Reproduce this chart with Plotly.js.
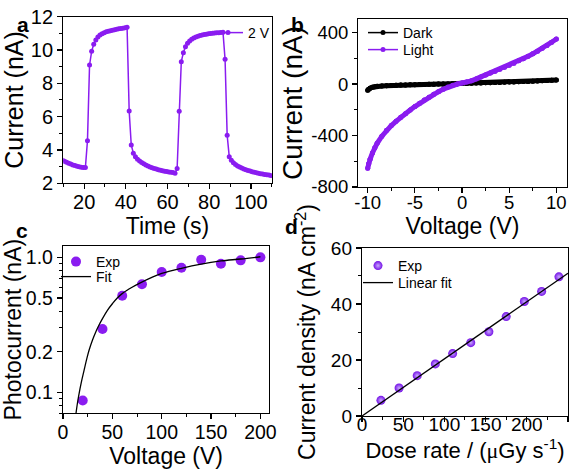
<!DOCTYPE html>
<html><head><meta charset="utf-8">
<script src="https://cdn.plot.ly/plotly-3.0.1.min.js"></script>
<style>html,body{margin:0;padding:0;background:#fff}#plot{width:579px;height:472px}</style>
</head><body><div id="plot"></div>
<script>
// ---- Panel a: photocurrent vs time at 2 V ----
const timeA = [9.6,10.6,11.6,12.6,13.6,14.6,15.6,16.6,17.6,18.6,19.6,20.6,21.6,22.6,23.6,24.6,25.6,26.6,27.6,28.6,29.6,30.6,31.6,32.6,33.6,34.6,35.6,36.6,37.6,38.6,39.6,40.6,41.6,42.6,43.6,44.6,45.6,46.6,47.6,48.6,49.6,50.6,51.6,52.6,53.6,54.6,55.6,56.6,57.6,58.6,59.6,60.6,61.6,62.6,63.6,64.6,65.6,66.6,67.6,68.6,69.6,70.6,71.6,72.6,73.6,74.6,75.6,76.6,77.6,78.6,79.6,80.6,81.6,82.6,83.6,84.6,85.6,86.6,87.6,88.6,89.6,90.6,91.6,92.6,93.6,94.6,95.6,96.6,97.6,98.6,99.6,100.6,101.6,102.6,103.6,104.6,105.6,106.6,107.6,108.6,109.6,110.6];
const currentA = [3.38,3.32,3.26,3.20,3.15,3.10,3.06,3.02,2.99,2.96,2.94,2.94,4.56,9.10,9.92,10.34,10.60,10.78,10.90,10.98,11.04,11.09,11.13,11.16,11.19,11.22,11.25,11.27,11.29,11.31,11.33,11.36,6.34,4.30,3.80,3.60,3.45,3.34,3.25,3.17,3.10,3.04,2.98,2.93,2.89,2.85,2.81,2.78,2.75,2.72,2.70,2.68,2.66,2.64,2.60,2.88,6.32,9.30,9.84,10.20,10.40,10.54,10.64,10.72,10.78,10.83,10.87,10.90,10.93,10.95,10.97,10.99,11.00,11.02,11.03,11.04,11.05,11.06,9.44,4.88,3.60,3.38,3.23,3.12,3.04,2.97,2.91,2.86,2.81,2.77,2.73,2.69,2.66,2.63,2.60,2.57,2.55,2.53,2.51,2.49,2.46,2.44];

// ---- Panel b: I-V curves ----
const voltB = [-10,-9.9,-9.75,-9.5,-9.25,-9,-8.5,-8,-7.5,-7,-6.5,-6,-5.5,-5,-4.5,-4,-3.5,-3,-2.5,-2,-1.5,-1,-0.5,0,0.5,1,1.5,2,2.5,3,3.5,4,4.5,5,5.5,6,6.5,7,7.5,8,8.5,9,9.5,10];
const darkB = [-48,-40,-32,-25,-21,-18,-15,-13,-11,-10,-8,-7,-6,-5,-4,-3,-2,-1,0,0,1,2,3,4,5,6,7,8,9,10,11,12,14,15,16,17,19,20,22,23,25,27,29,32];
const lightB = [-654,-620,-585,-535,-495,-460,-405,-360,-323,-290,-258,-230,-202,-175,-150,-125,-102,-80,-60,-40,-24,-10,0,8,15,25,40,55,70,85,100,115,130,145,162,180,197,215,235,255,277,300,325,350];
const tickValsBx = [-10,-5,0,5,10];
const tickTextBx = ['-10','-5','0','5','10'];
const tickValsBy = [-800,-400,0,400];
const tickTextBy = ['-800','-400','0','400'];

// ---- Panel c: photocurrent vs bias ----
const voltC = [20,40,60,80,100,120,140,160,180,200];
const photoC = [0.087,0.295,0.52,0.632,0.78,0.838,0.96,0.897,0.95,1.0];
const fitXC = [12.9,14.5,16.3,18.5,21.4,24,26.4,30,33.2,36,40,45,50.2,55,60.3,70,77.3,90,100,120,140,160,180,200];
const fitYC = [0.0675,0.082,0.098,0.118,0.146,0.176,0.205,0.245,0.28,0.31,0.352,0.405,0.455,0.5,0.541,0.6,0.641,0.71,0.76,0.83,0.892,0.94,0.972,1.01];
const tickValsCy = [0.1,0.2,0.5,1.0];
const tickTextCy = ['0.1','0.2','0.5','1.0'];
const minorValsCy = [0.07,0.08,0.09,0.3,0.4,0.6,0.7,0.8,0.9];

// ---- Panel d: current density vs dose rate ----
const doseD = [23,45,67,89,110,132,154,175,197,218,239];
const densD = [5.6,10.0,14.4,18.6,22.3,26.2,30.1,35.5,40.9,44.5,49.7];
const fitXD = [0,250];
const fitYD = [0,51.0];

const purple = '#8A1CF0';
const FONT = 'Liberation Sans, Arial, sans-serif';

const traces = [
  {x: timeA, y: currentA, xaxis:'x', yaxis:'y', mode:'lines+markers', name:'2 V', legend:'legend',
   line:{color:purple, width:1.5}, marker:{color:purple, size:5}},
  // thin copies for legend symbols of panel b (drawn below the thick curves)
  {x: voltB, y: darkB, xaxis:'x2', yaxis:'y2', mode:'lines+markers', name:'Dark', legend:'legend2',
   line:{color:'#000', width:1.5}, marker:{color:'#000', size:5}},
  {x: voltB, y: lightB, xaxis:'x2', yaxis:'y2', mode:'lines+markers', name:'Light', legend:'legend3',
   line:{color:purple, width:1.5}, marker:{color:purple, size:5}},
  {x: voltB, y: darkB, xaxis:'x2', yaxis:'y2', mode:'lines+markers', showlegend:false,
   line:{color:'#000', width:5}, marker:{color:'#000', size:5}},
  {x: voltB, y: lightB, xaxis:'x2', yaxis:'y2', mode:'lines+markers', showlegend:false,
   line:{color:purple, width:5}, marker:{color:purple, size:5}},
  {x: voltC, y: photoC, xaxis:'x3', yaxis:'y3', mode:'markers', name:'Exp', legend:'legend4',
   marker:{color:purple, size:10}},
  {x: fitXC, y: fitYC, xaxis:'x3', yaxis:'y3', mode:'lines', name:'Fit', legend:'legend5',
   line:{color:'#000', width:1.3, shape:'spline'}},
  {x: doseD, y: densD, xaxis:'x4', yaxis:'y4', mode:'markers', name:'Exp', legend:'legend6',
   marker:{color:'#7410E6', size:9, line:{width:0}, gradient:{type:'radial', color:'#C8A8FF'}}},
  {x: fitXD, y: fitYD, xaxis:'x4', yaxis:'y4', mode:'lines', name:'Linear fit', legend:'legend7',
   line:{color:'#000', width:1.3}}
];

function ax(fs, extra){
  return Object.assign({
    showline:true, mirror:true, linecolor:'#000', linewidth:1.2,
    ticks:'outside', ticklen:5, tickwidth:1.2, tickcolor:'#000',
    showgrid:false, zeroline:false,
    tickfont:{family:FONT, size:fs, color:'#000'},
  }, extra);
}
function ttl(text, size, standoff){ return {text:text, standoff:standoff, font:{family:FONT, size:size, color:'#000'}}; }
function minor(d){ return {ticks:'outside', ticklen:3, tickwidth:1, tickcolor:'#000', dtick:d, showgrid:false}; }
function leg(px, py){ return {x:px/579, y:1-py/472, xanchor:'left', yanchor:'top', bgcolor:'rgba(0,0,0,0)', borderwidth:0,
  font:{family:FONT, size:14, color:'#000'}, tracegroupgap:0, itemwidth:30}; }

const layout = {
  width:579, height:472, margin:{l:0, r:0, t:0, b:0},
  paper_bgcolor:'#fff', plot_bgcolor:'#fff', showlegend:true,
  font:{family:FONT, color:'#000'},
  xaxis: ax(20, {domain:[0.1093,0.4694], range:[10,110], tick0:0, dtick:20, minor:minor(10), anchor:'y', ticklabelstandoff:-4,
     title:ttl('Time (s)', 23, 0)}),
  yaxis: ax(20, {domain:[0.6117,0.9646], range:[2,12], dtick:2, minor:minor(1), anchor:'x', title:ttl('Current (nA)', 25, 3)}),
  xaxis2: ax(18.5, {domain:[0.6188,0.9788], range:[-11,11.1], tickvals:tickValsBx, ticktext:tickTextBx, minor:minor(2.5), anchor:'y2', ticklabelstandoff:-6,
     title:ttl('Voltage (V)', 23, 0)}),
  yaxis2: ax(18.5, {domain:[0.6038,0.9597], range:[-800,505], tickvals:tickValsBy, ticktext:tickTextBy, minor:minor(200), anchor:'x2', title:ttl('Current (nA)', 28, 0)}),
  xaxis3: ax(19.5, {domain:[0.1088,0.4651], range:[0,209], tick0:0, dtick:50, minor:minor(25), anchor:'y3', ticklabelstandoff:-4,
     title:ttl('Voltage (V)', 23, 0)}),
  yaxis3: ax(19.5, {domain:[0.1244,0.4788], type:'log', range:[-1.155,0.084], tickvals:tickValsCy, ticktext:tickTextCy,
     minor:{ticks:'outside', ticklen:3, tickwidth:1, tickcolor:'#000', tickvals:minorValsCy, showgrid:false},
     anchor:'x3', title:ttl('Photocurrent (nA)', 23, 6)}),
  xaxis4: ax(19, {domain:[0.6252,0.9810], range:[0,250], tick0:0, dtick:50, minor:minor(25), anchor:'y4', ticklabelstandoff:-14,
     title:ttl('Dose rate / (<span style="font-family:Liberation Serif">μ</span>Gy s<sup>-1</sup>)', 22, 0)}),
  yaxis4: ax(19, {domain:[0.1186,0.4746], range:[0,60], dtick:20, minor:minor(10), anchor:'x4', title:ttl('Current density (nA cm<sup>-2</sup>)', 23, 8)}),
  legend: leg(208, 17),
  legend2: leg(363, 17),
  legend3: leg(363, 34),
  legend4: leg(56, 246),
  legend5: leg(56, 261),
  legend6: leg(358, 250),
  legend7: leg(358, 267),
  annotations: [
    {text:'<b>a</b>', x:15/579, y:1-11/472, xref:'paper', yref:'paper', showarrow:false, font:{family:FONT, size:21, color:'#000'}},
    {text:'<b>b</b>', x:297/579, y:1-11/472, xref:'paper', yref:'paper', showarrow:false, font:{family:FONT, size:21, color:'#000'}},
    {text:'<b>c</b>', x:14/579, y:1-231/472, xref:'paper', yref:'paper', showarrow:false, font:{family:FONT, size:21, color:'#000'}},
    {text:'<b>d</b>', x:291/579, y:1-226/472, xref:'paper', yref:'paper', showarrow:false, font:{family:FONT, size:21, color:'#000'}}
  ]
};

Plotly.newPlot('plot', traces, layout, {displayModeBar:false, staticPlot:true});
</script></body></html>
